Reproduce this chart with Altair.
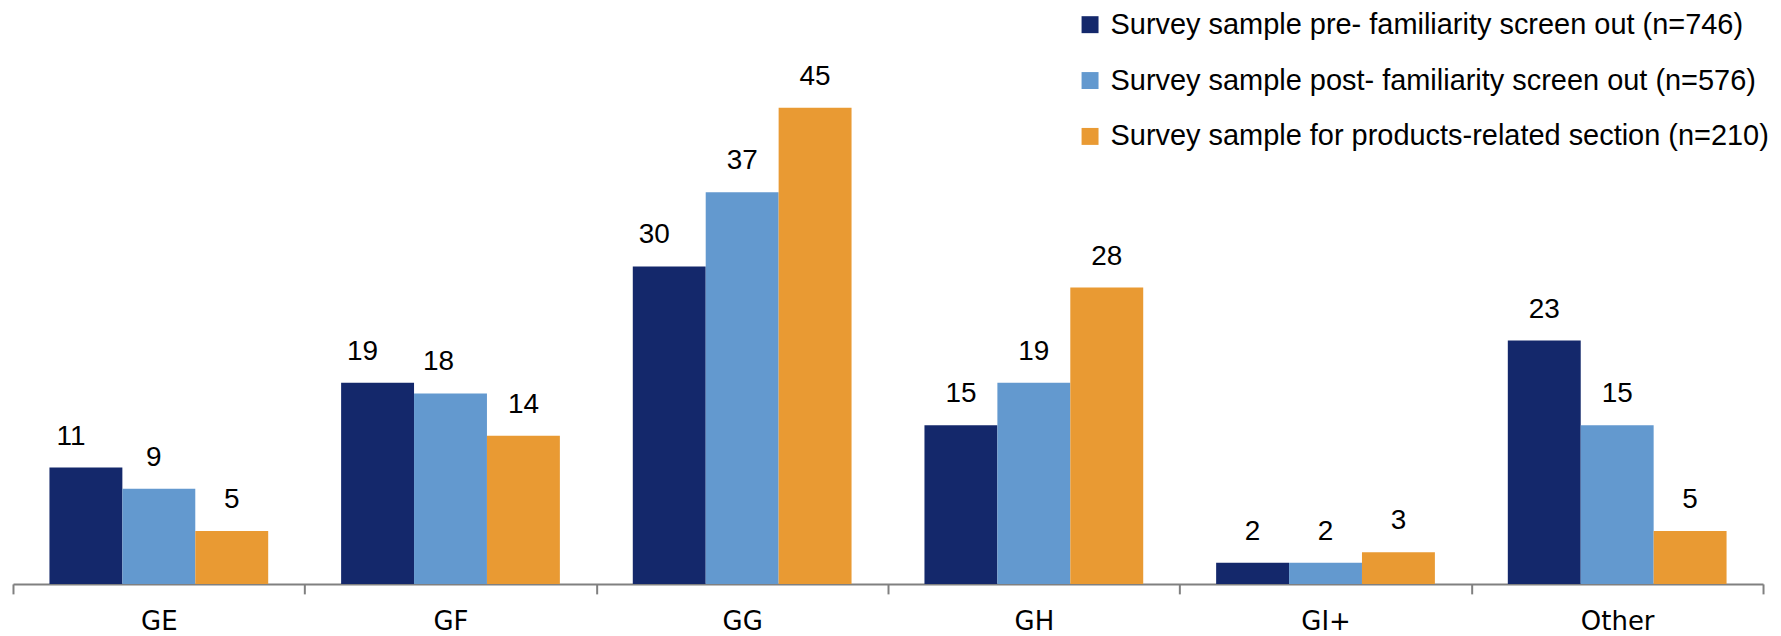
import altair as alt
import pandas as pd

categories = ["GE", "GF", "GG", "GH", "GI+", "Other"]
series = [
    "Survey sample pre- familiarity screen out (n=746)",
    "Survey sample post- familiarity screen out (n=576)",
    "Survey sample for products-related section (n=210)",
]
pre_values = [11, 19, 30, 15, 2, 23]
post_values = [9, 18, 37, 19, 2, 15]
product_values = [5, 14, 45, 28, 3, 5]
colors = ["#14286B", "#6399CF", "#E99A33"]

rows = []
for i, cat in enumerate(categories):
    for k, (s, vals) in enumerate(zip(series, [pre_values, post_values, product_values])):
        rows.append({"category": cat, "series": s, "sidx": k, "value": vals[i]})
df = pd.DataFrame(rows)

FONT = "Liberation Sans"

x_enc = alt.X(
    "category:N",
    sort=categories,
    scale=alt.Scale(paddingInner=0, paddingOuter=0),
    axis=alt.Axis(
        title=None,
        labelAngle=0,
        tickBand="extent",
        tickSize=10,
        tickColor="#808080",
        tickWidth=2,
        domainColor="#808080",
        domainWidth=2,
        labelFont="DejaVu Sans",
        labelFontSize=26,
        labelColor="#000000",
        labelPadding=15,
        labelBaseline="top",
    ),
)
xoff_enc = alt.XOffset("series:N", sort=series, scale=alt.Scale(paddingInner=0, paddingOuter=0.5))
y_enc = alt.Y("value:Q", scale=alt.Scale(domain=[0, 52.8], nice=False, zero=True), axis=None)

base = alt.Chart(df).encode(x=x_enc, xOffset=xoff_enc, y=y_enc)

bars = base.mark_bar().encode(
    color=alt.Color(
        "series:N",
        sort=series,
        scale=alt.Scale(domain=series, range=colors),
        legend=alt.Legend(
            title=None,
            orient="none",
            legendX=1065,
            legendY=-15,
            symbolType="square",
            symbolSize=289,
            symbolStrokeWidth=0,
            labelFont=FONT,
            labelFontSize=29,
            labelColor="#000000",
            labelLimit=0,
            labelOffset=6,
            rowPadding=26,
            padding=0,
        ),
    )
)

# value labels: a few labels in the reference sit slightly left of their bar centre
shift_far = "datum.sidx == 0 && indexof(['GE','GF','GG'], datum.category) >= 0"
shift_mid = "datum.sidx == 1 && datum.category == 'GF'"
shift_small = "datum.sidx == 1 && datum.category == 'GE'"
plain = f"!({shift_far}) && !({shift_mid}) && !({shift_small})"


def label_layer(cond, dx):
    return (
        base.transform_filter(cond)
        .mark_text(dy=-23, dx=dx, baseline="alphabetic", font=FONT, fontSize=28, color="#000000")
        .encode(text="value:Q")
    )


labels = [
    label_layer(plain, 0),
    label_layer(shift_far, -15),
    label_layer(shift_mid, -12),
    label_layer(shift_small, -5),
]

chart = (
    alt.layer(bars, *labels)
    .properties(
        width=1754,
        height=560,
        autosize=alt.AutoSizeParams(type="none"),
        padding={"left": 5, "top": 16.5, "right": 10, "bottom": 52},
    )
    .configure_view(stroke=None)
)

chart.save("out.html", embed_options={"renderer": "svg", "actions": False})
